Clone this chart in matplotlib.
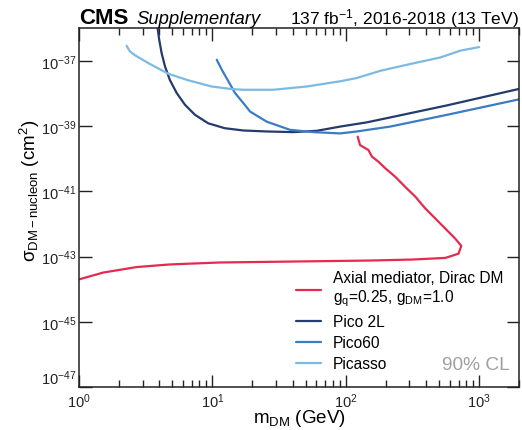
import numpy as np
import matplotlib
matplotlib.use("Agg")
import matplotlib.pyplot as plt
from matplotlib.ticker import LogLocator, NullFormatter, LogFormatterMathtext

plt.rcParams['font.family'] = ['Liberation Sans', 'DejaVu Sans']
plt.rcParams['mathtext.fontset'] = 'custom'
plt.rcParams['mathtext.rm'] = 'Liberation Sans'
plt.rcParams['mathtext.it'] = 'Liberation Sans:italic'

# Data: x in GeV, y as log10(cross section / cm^2)
cms_x = [123, 128, 148, 157, 176, 198, 235, 279, 332, 394, 469, 557, 662, 734, 700, 557, 313, 152, 27.1,
         11.4, 4.81, 2.71, 1.52, 1.0]
cms_y = [-39.32, -39.58, -39.73, -39.93, -40.09, -40.29, -40.55, -40.86, -41.16, -41.52, -41.83, -42.14,
         -42.45, -42.67, -42.91, -43.04, -43.09, -43.12, -43.16, -43.18, -43.24, -43.32, -43.49, -43.70]

pico2l_x = [3.89, 4.00, 4.17, 4.42, 4.81, 5.41, 6.24, 7.42, 9.33, 12.4, 17.1, 25.6, 40.5, 60.7, 90.8, 144,
            215, 573, 2010]
pico2l_y = [-35.98, -36.34, -36.75, -37.16, -37.58, -37.98, -38.34, -38.65, -38.91, -39.06, -39.13, -39.16,
            -39.18, -39.14, -39.01, -38.88, -38.73, -38.36, -37.85]

pico60_x = [10.8, 11.8, 13.2, 14.8, 17.1, 19.2, 25.6, 38.3, 57.3, 90.8, 121, 215, 573, 2010]
pico60_y = [-36.96, -37.27, -37.62, -37.98, -38.29, -38.55, -38.86, -39.11, -39.18, -39.22, -39.16, -39.01,
            -38.65, -38.17]

picasso_x = [2.28, 2.41, 2.63, 3.31, 4.68, 6.61, 9.89, 14.0, 17.1, 28.7, 51.1, 90.8, 121, 181, 304, 511,
             722, 1000]
picasso_y = [-36.53, -36.70, -36.82, -37.06, -37.39, -37.59, -37.78, -37.86, -37.88, -37.88, -37.78, -37.62,
             -37.52, -37.30, -37.09, -36.89, -36.68, -36.57]

ytick_exps = [-47, -45, -43, -41, -39, -37]

labels = ["Axial mediator, Dirac DM\n$\\mathregular{g_q}$=0.25, $\\mathregular{g_{DM}}$=1.0",
          "Pico 2L", "Pico60", "Picasso"]
colors = ["#e52a50", "#233b6d", "#3b7cc2", "#7cbae3"]

fig = plt.figure(figsize=(5.22, 4.31), dpi=100)
ax = fig.add_axes([0.151, 0.0998, 0.844, 0.8318])

series = [(cms_x, cms_y), (pico2l_x, pico2l_y), (pico60_x, pico60_y), (picasso_x, picasso_y)]
handles = []
for (xs, ys), c, lab in zip(series, colors, labels):
    h, = ax.plot(xs, 10.0 ** np.array(ys), color=c, lw=1.6, label=lab,
                 solid_joinstyle='round', solid_capstyle='round')
    handles.append(h)

ax.set_xscale('log')
ax.set_yscale('log')
ax.set_xlim(1, 2000)
ax.set_ylim(1e-47, 1e-36)

ax.xaxis.set_major_locator(LogLocator(base=10, numticks=10))
ax.xaxis.set_minor_locator(LogLocator(base=10, subs=np.arange(2, 10), numticks=20))
ax.xaxis.set_minor_formatter(NullFormatter())
ax.set_yticks([10.0 ** e for e in ytick_exps])
ax.yaxis.set_major_formatter(LogFormatterMathtext(base=10))
ax.yaxis.set_minor_locator(plt.NullLocator())

ax.tick_params(which='both', direction='in', top=True, right=True, labelsize=10.5, colors='#222222')
ax.tick_params(which='major', length=9, width=1)
ax.tick_params(which='minor', length=5, width=1)
ax.tick_params(axis='x', which='major', pad=3)
ax.tick_params(axis='y', which='major', pad=2)
for s in ax.spines.values():
    s.set_linewidth(1.1)
    s.set_color('#222222')

# raise the lowest y tick label slightly so it clears the 10^0 label
ax.yaxis.get_major_ticks()[0].label1.set_va('bottom')

ax.set_xlabel("$\\mathregular{m_{DM}}$ (GeV)", fontsize=13.5, va='center')
ax.xaxis.set_label_coords(0.5, -0.085)
ax.set_ylabel("$\\mathregular{\\sigma_{DM-nucleon}}$ (cm$^\\mathregular{2}$)", fontsize=13.5, va='center')
ax.yaxis.set_label_coords(-0.111, 0.55)

leg = ax.legend(handles=handles, loc='lower left', bbox_to_anchor=(0.462, 0.005), frameon=False,
                fontsize=11.2, handlelength=1.6, handletextpad=0.77, labelspacing=0.38)

ax.text(0.979, 0.05, "90% CL", transform=ax.transAxes, ha='right', va='baseline', fontsize=13.8,
        color='#a0a0a0')

fig.text(0.151, 0.944, "CMS", fontsize=16, fontweight='bold', ha='left', va='baseline')
fig.text(0.261, 0.944, "Supplementary", fontsize=13.3, style='italic', ha='left', va='baseline')
fig.text(0.995, 0.944, "137 fb$^{-1}$, 2016-2018 (13 TeV)", fontsize=12.5, ha='right', va='baseline')

fig.savefig("out.png", dpi=100)
